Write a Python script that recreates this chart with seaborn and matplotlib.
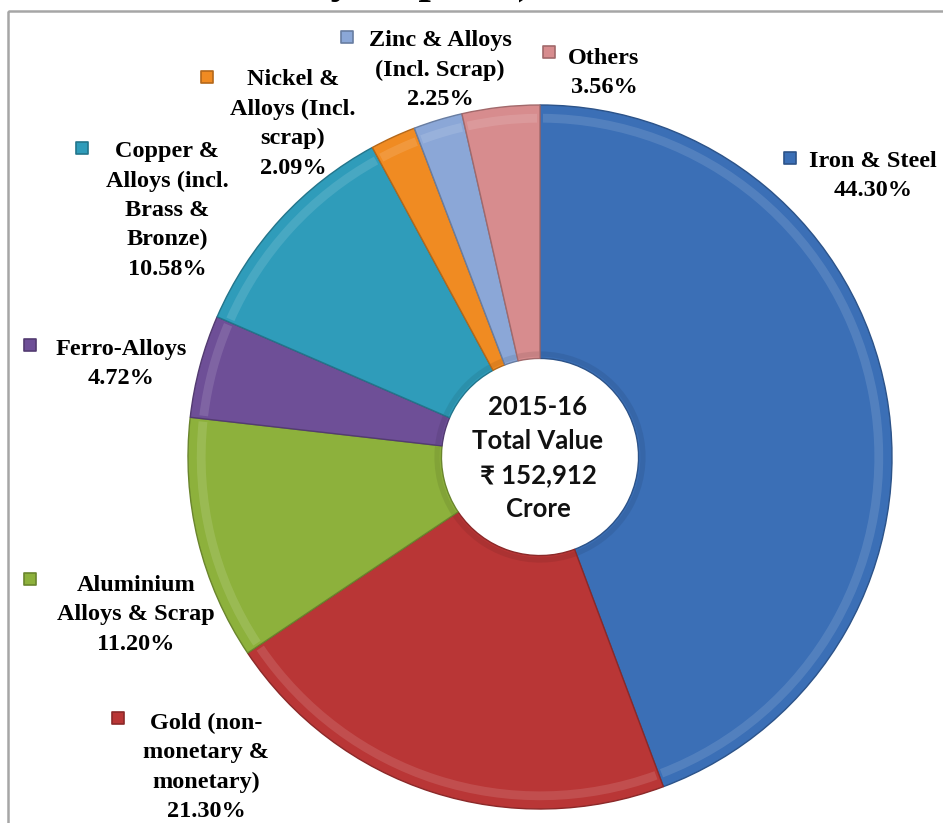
import matplotlib
matplotlib.use("Agg")
import matplotlib.pyplot as plt
from matplotlib.patches import Rectangle, Wedge
import seaborn as sns

# Données
categories = [
    "Iron & Steel",
    "Gold (non-\nmonetary &\nmonetary)",
    "Aluminium\nAlloys & Scrap",
    "Ferro-Alloys",
    "Copper &\nAlloys (incl.\nBrass &\nBronze)",
    "Nickel &\nAlloys (Incl.\nscrap)",
    "Zinc & Alloys\n(Incl. Scrap)",
    "Others",
]
shares = [44.30, 21.30, 11.20, 4.72, 10.58, 2.09, 2.25, 3.56]
center_lines = ["2015-16", "Total Value", "\u20b9 152,912", "Crore"]
title_fragment = "by Imports), 2015-16"

colors = sns.color_palette(["#3b6fb6", "#b93636", "#8db13c", "#6e4f97",
                            "#2f9cba", "#f08b22", "#8ba7d7", "#d78c8e"])

# mise en page (pixels, origine en haut à gauche)
W, H = 943, 823
CX, CY, R = 540, 457, 352
# (x marqueur, y marqueur, x centre texte, y haut texte)
label_pos = [
    (790, 158, 873, 151),
    (118, 718, 206, 713),
    (30, 579, 136, 575),
    (30, 345, 121, 339),
    (82, 148, 167, 141),
    (207, 77, 293, 69),
    (347, 37, 440, 30),
    (549, 52, 604, 48),
]

sns.set_style("white")
plt.rcParams["font.family"] = ["Liberation Serif", "DejaVu Serif"]

fig = plt.figure(figsize=(W / 100, H / 100), dpi=100)
fig.patch.set_facecolor("white")

# anneau
ax_pie = fig.add_axes([(CX - R) / W, (H - CY - R) / H, 2 * R / W, 2 * R / H])
edge = [tuple(c * 0.75 for c in col) for col in colors]
wedges, _ = ax_pie.pie(shares, colors=colors, startangle=90, counterclock=False,
                       radius=1, wedgeprops=dict(width=0.72, linewidth=1.0))
for w, e, col in zip(wedges, edge, colors):
    w.set_edgecolor(e)
    # petit effet de biseau
    light = tuple(min(1, c * 0.6 + 0.4) for c in col)
    ax_pie.add_patch(Wedge((0, 0), 0.975, w.theta1 + 0.5, w.theta2 - 0.5, width=0.025,
                           facecolor=light, edgecolor="none", alpha=0.3))
    ax_pie.add_patch(Wedge((0, 0), 0.30, w.theta1 + 0.5, w.theta2 - 0.5, width=0.015,
                           facecolor=e, edgecolor="none", alpha=0.3))
ax_pie.set_xlim(-1, 1)
ax_pie.set_ylim(-1, 1)
ax_pie.set_aspect("equal")
ax_pie.axis("off")

# couche texte
ax = fig.add_axes([0, 0, 1, 1])
ax.set_xlim(0, W)
ax.set_ylim(H, 0)
ax.axis("off")

ax.add_patch(Rectangle((8, 11), W, H, fill=False, edgecolor="#a6a6a6", linewidth=1.8))
ax.text(306, -7, title_fragment, fontsize=32, fontweight="bold", ha="left",
        va="baseline", color="black")

for (mx, my, tx, ty), name, val, col, e in zip(label_pos, categories, shares, colors, edge):
    ax.scatter([mx], [my], marker="s", s=70, color=col, edgecolor=e, linewidth=1.2, zorder=3)
    ax.text(tx, ty, f"{name}\n{val:.2f}%", fontsize=17.5, fontweight="bold",
            ha="center", va="top", multialignment="center", linespacing=1.52,
            color="black")

ax.text(538, 458, "\n".join(center_lines), fontsize=18.5, fontweight="bold",
        ha="center", va="center", multialignment="center", linespacing=1.5,
        family=["Lato", "Noto Sans", "DejaVu Sans"], color="#111111")

fig.savefig("out.png", dpi=100, facecolor="white")
